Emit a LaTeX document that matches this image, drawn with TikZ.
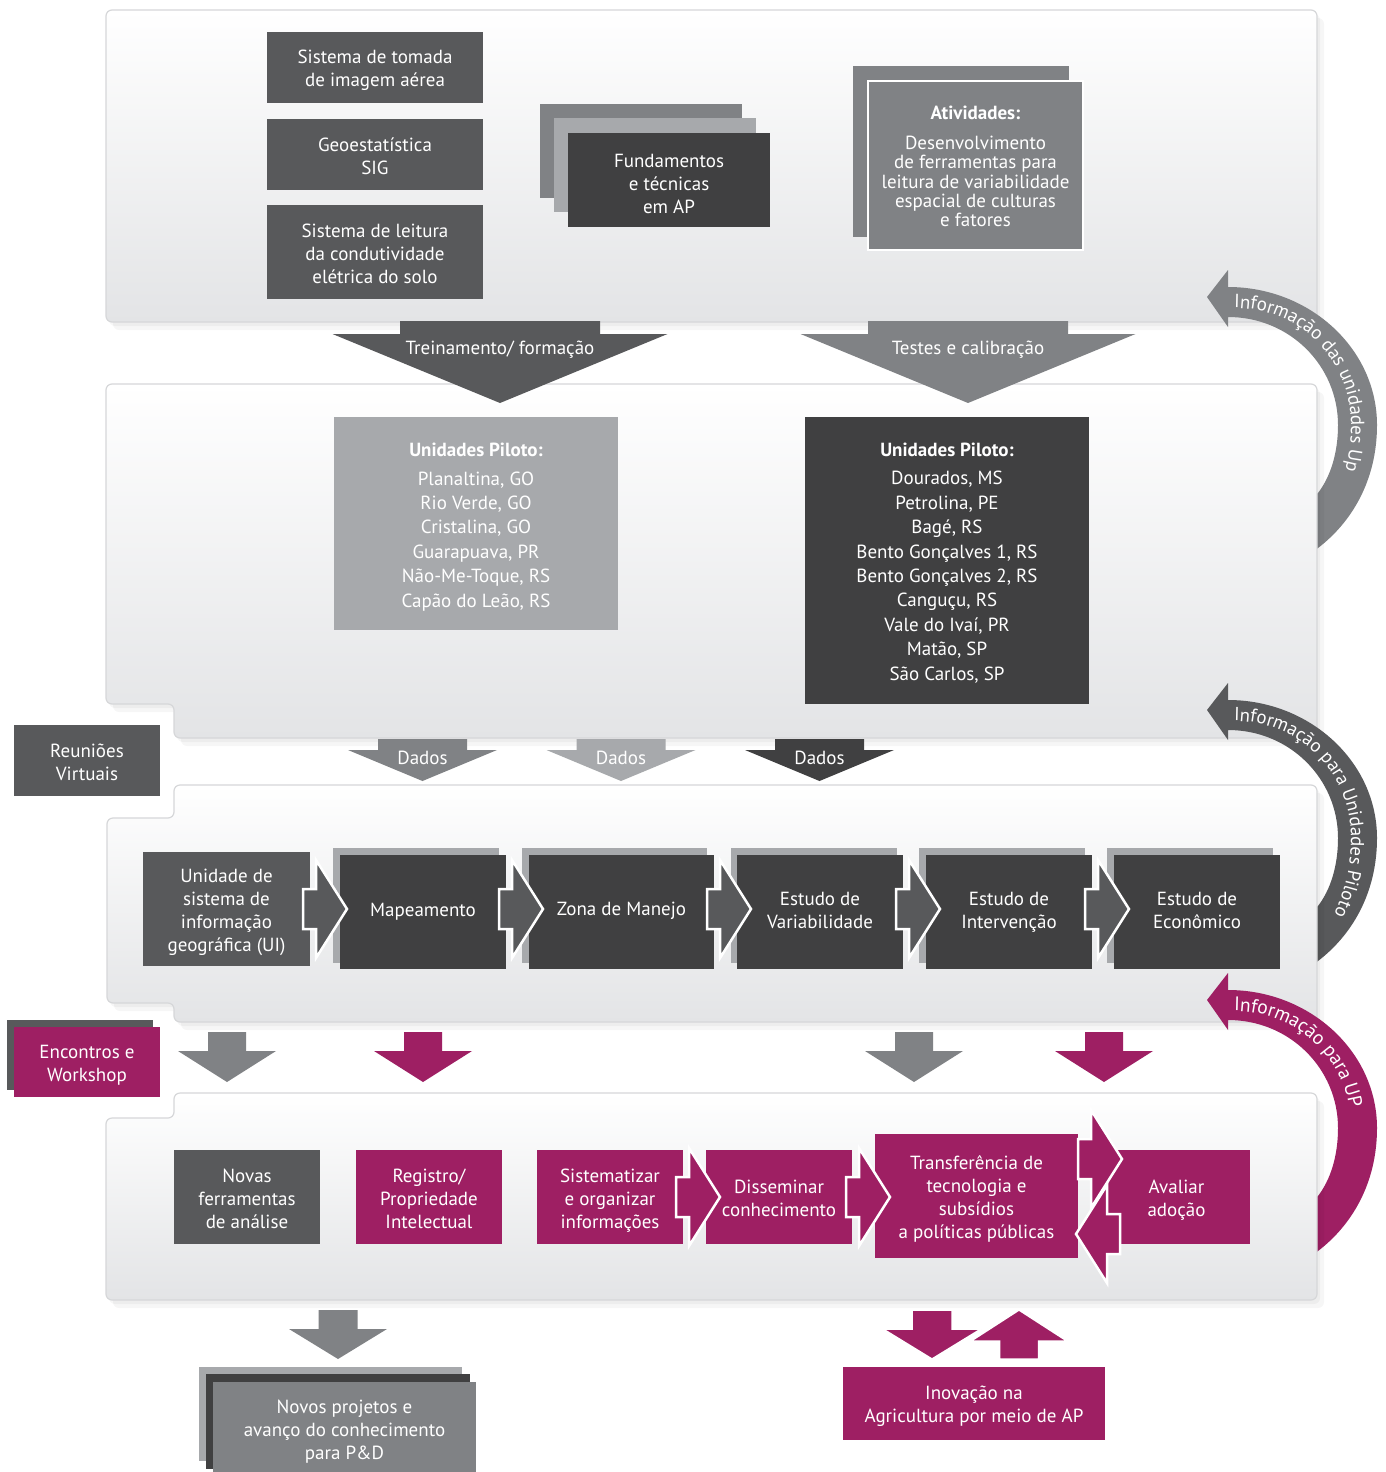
\documentclass[tikz,border=0pt]{standalone}
\usepackage{fontspec}
\setmainfont{PT Sans}
\usetikzlibrary{decorations.text}
\definecolor{cdark}{HTML}{58595B}
\definecolor{cdarkest}{HTML}{404041}
\definecolor{cmid}{HTML}{808285}
\definecolor{clight}{HTML}{A7A9AC}
\definecolor{cmag}{HTML}{9E1F63}
\definecolor{pline}{HTML}{D6D7D9}
\definecolor{pbot}{HTML}{E3E4E6}
\newcommand\fsz{\fontsize{19}{23}\selectfont}
\newcommand\sH{\rule{0pt}{1.05em}}
\newcommand\sD{\rule[-0.2em]{0pt}{0.2em}}
\newcommand\ml[1]{\sH#1\sD}
\tikzset{
  box/.style={inner sep=0, outer sep=0, text=white, font=\fsz, align=center,
    execute at begin node={\sH}, execute at end node={\sD}},
  txt/.style={box},
  plain/.style={inner sep=0, outer sep=0},
  panel/.style={draw=pline, line width=1.2, rounded corners=6, top color=white, bottom color=pbot},
  chev/.style={draw=white, line width=2.5, line join=miter},
}
\newcommand\drawpanel[1]{%
  \fill[black,opacity=.035,rounded corners=6,shift={(3,4)}] #1;
  \fill[black,opacity=.035,rounded corners=6,shift={(7,8)}] #1;
  \path[panel] #1;}
\newcommand\chevR[3]{\filldraw[fill=#3, chev] (#1,#2-20) -- ++(13,0) -- ++(0,-29) -- (#1+44,#2) -- (#1+13,#2+49) -- ++(0,-29) -- (#1,#2+20) -- cycle;}
\newcommand\chevL[3]{\filldraw[fill=#3, chev] (#1,#2-20) -- ++(-13,0) -- ++(0,-29) -- (#1-44,#2) -- (#1-13,#2+49) -- ++(0,-29) -- (#1,#2+20) -- cycle;}
% optional style, cx, ytop, yhead, ytip, shafthalf, headhalf, color
\newcommand\blockdown[8][]{\path[#1, fill=#8] (#2-#6,#3) -- (#2+#6,#3) -- (#2+#6,#4) -- (#2+#7,#4) -- (#2,#5) -- (#2-#7,#4) -- (#2-#6,#4) -- cycle;}
% yshift, colour, font size, text
\newcommand\infoarc[4]{%
\begin{scope}[shift={(0,#1)}]
\fill[#2] (1228,287) .. controls (1310,287) and (1377,349) .. (1377,425) .. controls (1377,480) and (1352,522) .. (1318,548) -- (1300,562) -- (1300,505) -- (1318,493) .. controls (1331,476) and (1338,452) .. (1338,425) .. controls (1338,366) and (1290,317) .. (1228,317) -- (1228,327) -- (1207,297) -- (1228,270) -- cycle;
\path[decorate, decoration={text along path, text align=left, text={|\color{white}\fontsize{#3}{#3}\selectfont|#4}}] (1234,308) .. controls (1300,308) and (1351,360) .. (1351,425) .. controls (1351,470) and (1336,505) .. (1311,540);
\end{scope}}
\begin{document}
\begin{tikzpicture}[x=1pt,y=-1pt]
\useasboundingbox (0,0) rectangle (1386,1472);
\fill[white] (0,0) rectangle (1386,1472);

% ---------- panel 1
\drawpanel{(106,10) rectangle (1317,322)}
\node[box, fill=cdark, minimum width=216, minimum height=71] (aerea) at (375,67.5) {\ml{Sistema de tomada\\de imagem aérea}};
\node[box, fill=cdark, minimum width=216, minimum height=71] (geo) at (375,154.5) {\ml{Geoestatística\\SIG}};
\node[box, fill=cdark, minimum width=216, minimum height=94] (leitura) at (375,252) {\ml{Sistema de leitura\\da condutividade\\elétrica do solo}};
\node[plain, fill=cmid, minimum width=202, minimum height=94] (fundc) at (641,151) {};
\node[plain, fill=clight, minimum width=202, minimum height=94] (fundb) at (655,165) {};
\node[plain, fill=cdarkest, minimum width=202, minimum height=94] (funda) at (669,180) {};
\node[txt] (fundt) at (669,182) {\ml{Fundamentos\\e técnicas\\em AP}};
\node[plain, fill=cmid, minimum width=216, minimum height=171] (ativb) at (961,151.5) {};
\node[plain, fill=cmid, draw=white, line width=2, minimum width=215, minimum height=169] (ativ) at (975.5,165.5) {};
\node[txt, font=\fsz\bfseries] (ativt) at (975.5,111) {Atividades:};
\node[txt, font=\fontsize{19}{19.4}\selectfont] (ativd) at (975.5,180) {\ml{Desenvolvimento\\de ferramentas para\\leitura de variabilidade\\espacial de culturas\\e fatores}};

\infoarc{0}{cmid}{19}{Informação das unidades Up}

% ---------- panel 2
\drawpanel{(106,384) -- (1317,384) -- (1317,738) -- (174,738) -- (174,704) -- (106,704) -- cycle}
\blockdown{500}{321}{334}{403}{100}{167.5}{cdark}
\node[txt] (trein) at (500,346) {Treinamento/ formação};
\blockdown{968}{321}{334}{403}{100}{167.5}{cmid}
\node[txt] (testes) at (968,346) {Testes e calibração};

\node[plain, fill=clight, minimum width=284, minimum height=213] (upa) at (476,523.5) {};
\node[txt, font=\fsz\bfseries] (upat) at (476,448) {Unidades Piloto:};
\node[txt, font=\fontsize{19}{24.4}\selectfont] (upal) at (476,538) {\ml{Planaltina, GO\\Rio Verde, GO\\Cristalina, GO\\Guarapuava, PR\\Não-Me-Toque, RS\\Capão do Leão, RS}};
\node[plain, fill=cdarkest, minimum width=284, minimum height=287] (upb) at (947,560.5) {};
\node[txt, font=\fsz\bfseries] (upbt) at (947,448) {Unidades Piloto:};
\node[txt, font=\fontsize{19}{24.4}\selectfont] (upbl) at (947,574.5) {\ml{Dourados, MS\\Petrolina, PE\\Bagé, RS\\Bento Gonçalves 1, RS\\Bento Gonçalves 2, RS\\Canguçu, RS\\Vale do Ivaí, PR\\Matão, SP\\São Carlos, SP}};

\infoarc{413}{cdark}{18.8}{Informação para Unidades Piloto}

\blockdown{422.5}{739}{750}{781}{44.5}{74.5}{cmid}
\node[txt] (dados1) at (422.5,756) {Dados};
\blockdown{621}{739}{750}{781}{44.5}{74.5}{clight}
\node[txt] (dados2) at (621,756) {Dados};
\blockdown{819.5}{739}{750}{781}{44.5}{74.5}{cdarkest}
\node[txt] (dados3) at (819.5,756) {Dados};
\node[box, fill=cdark, minimum width=146, minimum height=71] (reun) at (87,760.5) {\ml{Reuniões\\Virtuais}};

% ---------- panel 3
\drawpanel{(174,785) -- (1317,785) -- (1317,1022) -- (174,1022) -- (174,1003) -- (107,1003) -- (107,818) -- (174,818) -- cycle}
\node[box, fill=cdark, minimum width=167, minimum height=114] (ui) at (226.5,909) {\ml{Unidade de\\sistema de\\informação\\geográfica (UI)}};
\node[plain, fill=clight, minimum width=166, minimum height=115] (mapb) at (416,905.5) {};
\node[plain, fill=cdarkest, minimum width=166, minimum height=114] (map) at (423,912) {};
\node[txt] (mapt) at (423,908) {Mapeamento};
\node[plain, fill=clight, minimum width=185, minimum height=115] (zonab) at (614.5,905.5) {};
\node[plain, fill=cdarkest, minimum width=185, minimum height=114] (zona) at (621.5,912) {};
\node[txt] (zonat) at (621.5,908) {Zona de Manejo};
\node[plain, fill=clight, minimum width=166, minimum height=115] (varb) at (814,905.5) {};
\node[plain, fill=cdarkest, minimum width=166, minimum height=114] (var) at (820,912) {};
\node[txt] (vart) at (820,908.5) {\ml{Estudo de\\Variabilidade}};
\node[plain, fill=clight, minimum width=166, minimum height=115] (intb) at (1002,905.5) {};
\node[plain, fill=cdarkest, minimum width=166, minimum height=114] (int) at (1009,912) {};
\node[txt] (intt) at (1009,908.5) {\ml{Estudo de\\Intervenção}};
\node[plain, fill=clight, minimum width=166, minimum height=115] (ecob) at (1190,905.5) {};
\node[plain, fill=cdarkest, minimum width=166, minimum height=114] (eco) at (1197,912) {};
\node[txt] (ecot) at (1197,908.5) {\ml{Estudo de\\Econômico}};
\chevR{303}{909}{cdark}
\chevR{499}{909}{cdark}
\chevR{707}{909}{cdark}
\chevR{896}{909}{cdark}
\chevR{1085}{909}{cdark}

\infoarc{703}{cmag}{19.5}{Informação para UP}

\node[plain, fill=cdark, minimum width=146, minimum height=70] (encb) at (80,1055) {};
\node[box, fill=cmag, minimum width=146, minimum height=70] (enc) at (87,1062) {\ml{Encontros e\\Workshop}};
\blockdown{227}{1032}{1051}{1082}{19}{49}{cmid}
\blockdown{423}{1032}{1051}{1082}{19}{49}{cmag}
\blockdown{914}{1032}{1051}{1082}{19}{49}{cmid}
\blockdown{1104}{1032}{1051}{1082}{19}{49}{cmag}

% ---------- panel 4
\drawpanel{(174,1093) -- (1317,1093) -- (1317,1300) -- (106,1300) -- (106,1118) -- (174,1118) -- cycle}
\node[box, fill=cdark, minimum width=146, minimum height=94] (novas) at (247,1197) {\ml{Novas\\ferramentas\\de análise}};
\node[box, fill=cmag, minimum width=146, minimum height=94] (registro) at (429,1197) {\ml{Registro/\\Propriedade\\Intelectual}};
\node[box, fill=cmag, minimum width=146, minimum height=94] (sist) at (610,1197) {\ml{Sistematizar\\e organizar\\informações}};
\node[box, fill=cmag, minimum width=146, minimum height=94] (diss) at (779,1197) {\ml{Disseminar\\conhecimento}};
\node[box, fill=cmag, minimum width=203, minimum height=124] (transf) at (976.5,1196) {\ml{Transferência de\\tecnologia e\\subsídios\\a políticas públicas}};
\node[box, fill=cmag, minimum width=147, minimum height=94] (aval) at (1176.5,1197) {\ml{Avaliar\\adoção}};
\chevR{676}{1197}{cmag}
\chevR{846}{1197}{cmag}
\chevR{1078}{1159}{cmag}
\chevL{1120}{1234}{cmag}

% ---------- outputs
\blockdown{338}{1310}{1329}{1359}{19.5}{49}{cmid}
\node[plain, fill=clight, minimum width=263, minimum height=94] (novb2) at (330.5,1414) {};
\node[plain, fill=cdarkest, minimum width=264, minimum height=95] (novb1) at (338,1421.5) {};
\node[box, fill=cmid, minimum width=263, minimum height=92] (novos) at (344.5,1428) {\ml{Novos projetos e\\avanço do conhecimento\\para P\&D}};
\blockdown[draw=white, line width=1.5]{932}{1310}{1329}{1359}{20}{49}{cmag}
\blockdown[draw=white, line width=1.5]{1019}{1359}{1341}{1310}{19.5}{48}{cmag}
\node[box, fill=cmag, minimum width=262, minimum height=73] (inov) at (974,1403.5) {\ml{Inovação na\\Agricultura por meio de AP}};
\end{tikzpicture}
\end{document}
